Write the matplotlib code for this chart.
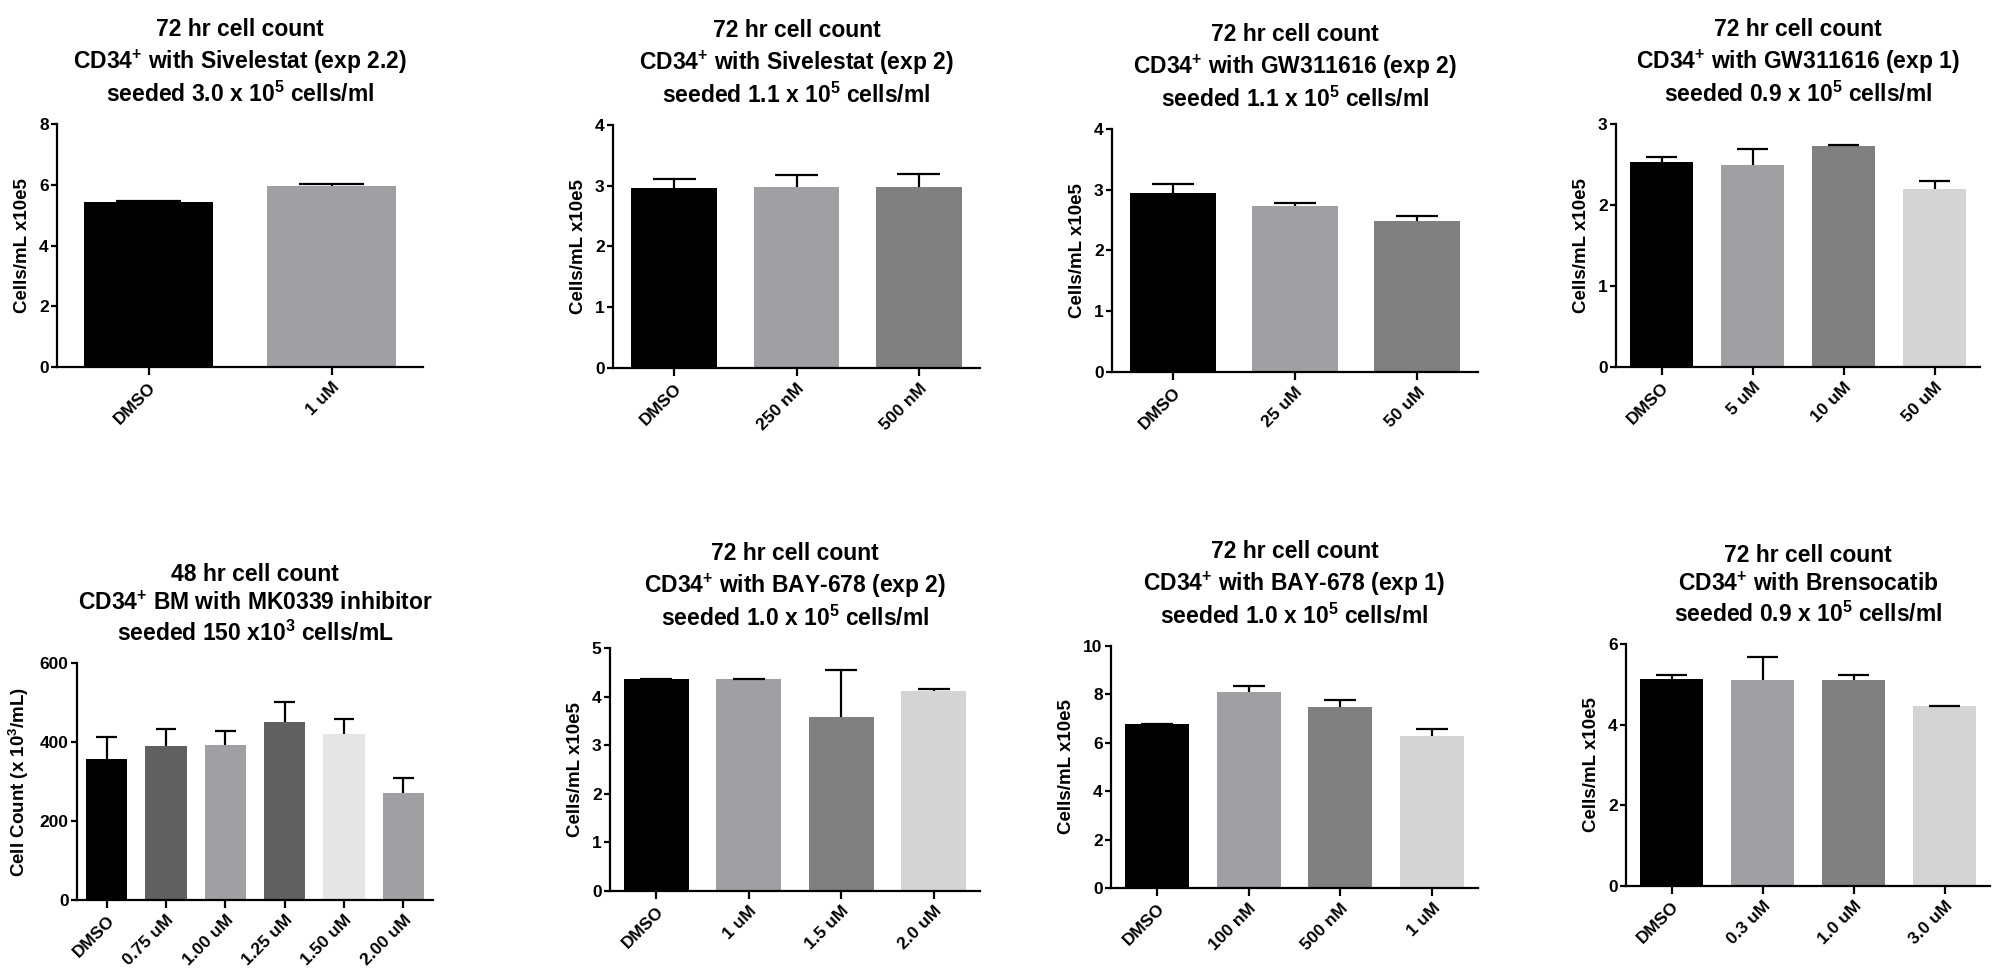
import matplotlib
matplotlib.use('Agg')
import matplotlib.pyplot as plt

plt.rcParams['font.family'] = ['Liberation Sans', 'DejaVu Sans']
plt.rcParams['font.weight'] = 'bold'
plt.rcParams['axes.labelweight'] = 'bold'
plt.rcParams['axes.titleweight'] = 'bold'
plt.rcParams['mathtext.fontset'] = 'custom'
plt.rcParams['mathtext.rm'] = 'Liberation Sans:bold'
plt.rcParams['mathtext.bf'] = 'Liberation Sans:bold'
plt.rcParams['mathtext.it'] = 'Liberation Sans:bold'

# ---- data ----
# top row
siv22_labels = ['DMSO', '1 uM']
siv22_mean = [5.43, 5.95]
siv22_err = [0.05, 0.08]

siv2_labels = ['DMSO', '250 nM', '500 nM']
siv2_mean = [2.97, 2.98, 2.98]
siv2_err = [0.14, 0.19, 0.21]

gw2_labels = ['DMSO', '25 uM', '50 uM']
gw2_mean = [2.95, 2.73, 2.49]
gw2_err = [0.14, 0.06, 0.08]

gw1_labels = ['DMSO', '5 uM', '10 uM', '50 uM']
gw1_mean = [2.53, 2.49, 2.73, 2.20]
gw1_err = [0.06, 0.20, 0.01, 0.10]

# bottom row
mk_labels = ['DMSO', '0.75 uM', '1.00 uM', '1.25 uM', '1.50 uM', '2.00 uM']
mk_mean = [357, 390, 392, 450, 420, 272]
mk_err = [55, 43, 37, 51, 38, 36]

bay2_labels = ['DMSO', '1 uM', '1.5 uM', '2.0 uM']
bay2_mean = [4.37, 4.36, 3.58, 4.12]
bay2_err = [0.0, 0.0, 0.96, 0.04]

bay1_labels = ['DMSO', '100 nM', '500 nM', '1 uM']
bay1_mean = [6.79, 8.11, 7.48, 6.28]
bay1_err = [0.0, 0.22, 0.30, 0.30]

bren_labels = ['DMSO', '0.3 uM', '1.0 uM', '3.0 uM']
bren_mean = [5.13, 5.11, 5.11, 4.47]
bren_err = [0.11, 0.56, 0.13, 0.0]

BLK = '#000000'
G1 = '#A0A0A4'
G2 = '#808080'
G3 = '#D4D4D4'
D1 = '#606060'
L1 = '#E6E6E6'

ylab = 'Cells/mL x10e5'

panels = [
    # title, labels, mean, err, colors, ymax, ystep, ylabel, axes box in px (l, t, r, b)
    ('72 hr cell count\nCD34$^{+}$ with Sivelestat (exp 2.2)\nseeded 3.0 x 10$^{5}$ cells/ml',
     siv22_labels, siv22_mean, siv22_err, [BLK, G1], 8, 2, ylab, (57, 124, 423, 367)),
    ('72 hr cell count\nCD34$^{+}$ with Sivelestat (exp 2)\nseeded 1.1 x 10$^{5}$ cells/ml',
     siv2_labels, siv2_mean, siv2_err, [BLK, G1, G2], 4, 1, ylab, (613, 125, 980, 368)),
    ('72 hr cell count\nCD34$^{+}$ with GW311616 (exp 2)\nseeded 1.1 x 10$^{5}$ cells/ml',
     gw2_labels, gw2_mean, gw2_err, [BLK, G1, G2], 4, 1, ylab, (1112, 129, 1478, 372)),
    ('72 hr cell count\nCD34$^{+}$ with GW311616 (exp 1)\nseeded 0.9 x 10$^{5}$ cells/ml',
     gw1_labels, gw1_mean, gw1_err, [BLK, G1, G2, G3], 3, 1, ylab, (1616, 124, 1980, 367)),
    ('48 hr cell count\nCD34$^{+}$ BM with MK0339 inhibitor\nseeded 150 x10$^{3}$ cells/mL',
     mk_labels, mk_mean, mk_err, [BLK, D1, G1, D1, L1, G1], 600, 200,
     'Cell Count (x 10$^{3}$/mL)', (77, 663, 433, 900)),
    ('72 hr cell count\nCD34$^{+}$ with BAY-678 (exp 2)\nseeded 1.0 x 10$^{5}$ cells/ml',
     bay2_labels, bay2_mean, bay2_err, [BLK, G1, G2, G3], 5, 1, ylab, (610, 648, 980, 891)),
    ('72 hr cell count\nCD34$^{+}$ with BAY-678 (exp 1)\nseeded 1.0 x 10$^{5}$ cells/ml',
     bay1_labels, bay1_mean, bay1_err, [BLK, G1, G2, G3], 10, 2, ylab, (1111, 646, 1478, 888)),
    ('72 hr cell count\nCD34$^{+}$ with Brensocatib\nseeded 0.9 x 10$^{5}$ cells/ml',
     bren_labels, bren_mean, bren_err, [BLK, G1, G2, G3], 6, 2, ylab, (1626, 644, 1990, 886)),
]

W, H = 1992, 977
fig = plt.figure(figsize=(W / 100, H / 100), dpi=100)

bw = 0.7
for title, labels, mean, err, colors, ymax, ystep, ylabel, box in panels:
    l, t, r, b = box
    ax = fig.add_axes([l / W, 1 - b / H, (r - l) / W, (b - t) / H])
    x = list(range(len(labels)))
    ax.bar(x, mean, width=bw, color=colors, zorder=2)
    tops = [m + e for m, e in zip(mean, err)]
    # one sided error bars (upper only)
    ax.vlines(x, mean, tops, color='black', lw=1.6, zorder=3)
    ax.hlines(tops, [i - bw / 4 for i in x], [i + bw / 4 for i in x],
              color='black', lw=1.6, zorder=3)
    ax.set_xlim(-0.5, len(labels) - 0.5)
    ax.set_ylim(0, ymax)
    ax.set_yticks(range(0, ymax + 1, ystep))
    ax.set_xticks(x)
    ax.set_xticklabels(labels, rotation=45, ha='right', rotation_mode='anchor')
    ax.spines['top'].set_visible(False)
    ax.spines['right'].set_visible(False)
    ax.spines['left'].set_linewidth(1.6)
    ax.spines['bottom'].set_linewidth(1.6)
    ax.tick_params(axis='y', length=4, width=1.6, labelsize=12.5, pad=2)
    ax.tick_params(axis='x', length=6, width=1.6, labelsize=12.5, pad=3)
    ax.set_ylabel(ylabel, fontsize=13.5, labelpad=6)
    ax.set_title(title, fontsize=16.5, pad=16, linespacing=1.3)

plt.savefig('out.png', dpi=100, facecolor='white')
